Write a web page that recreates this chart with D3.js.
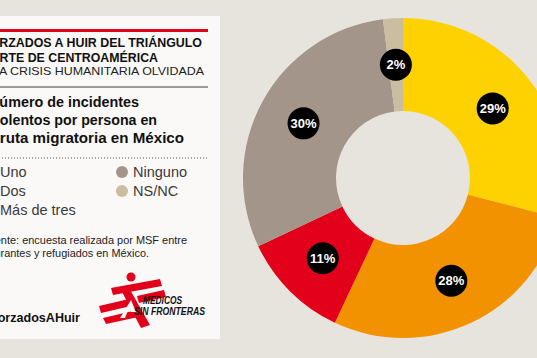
<!DOCTYPE html>
<html><head><meta charset="utf-8">
<script src="https://cdn.jsdelivr.net/npm/d3@7"></script>
<style>
html,body{margin:0;padding:0;background:#e7e4dd;overflow:hidden}
svg{display:block;font-family:"Liberation Sans",Arial,sans-serif}
</style></head>
<body><svg id="c" width="537" height="358"></svg>
<script>
const categories = ["Uno", "Dos", "Más de tres", "Ninguno", "NS/NC"];
const values = [29, 28, 11, 30, 2];
const labels = ["29%", "28%", "11%", "30%", "2%"];
const colors = ["#fdd200", "#f39200", "#e2001a", "#a39589", "#cbbd9f"];
const titleLines = ["FORZADOS A HUIR DEL TRIÁNGULO", "NORTE DE CENTROAMÉRICA"];
const kicker = "LA CRISIS HUMANITARIA OLVIDADA";
const subtitleLines = ["Número de incidentes", "violentos por persona en", "la ruta migratoria en México"];
const sourceLines = ["Fuente: encuesta realizada por MSF entre", "migrantes y refugiados en México."];
const hashtag = "#ForzadosAHuir";

const svg = d3.select("#c");
svg.append("rect").attr("width",537).attr("height",358).attr("fill","#e7e4dd");

// card
svg.append("rect").attr("x",-10).attr("y",16).attr("width",230).attr("height",323).attr("fill","#faf9f7");
svg.append("rect").attr("x",-10).attr("y",29).attr("width",218).attr("height",3).attr("fill","#e2001a");

function fitText(g, txt, x, y, len, size, weight, fill, style){
  return g.append("text").attr("x",x).attr("y",y).attr("textLength",len)
    .attr("lengthAdjust","spacingAndGlyphs").attr("font-size",size)
    .attr("font-weight",weight||"normal").attr("font-style",style||"normal")
    .attr("fill",fill||"#1a1a1a").text(txt);
}
fitText(svg, titleLines[0], -18, 47, 220, 13.5, "bold", "#111");
fitText(svg, titleLines[1], -19, 62, 177, 13.5, "bold", "#111");
fitText(svg, kicker, -8, 75, 212, 11, "normal", "#222");
svg.append("rect").attr("x",-10).attr("y",86).attr("width",218).attr("height",2).attr("fill","#9a9a9a");

fitText(svg, subtitleLines[0], -11, 107, 150, 14.5, "bold", "#111");
fitText(svg, subtitleLines[1], -12, 125, 169, 14.5, "bold", "#111");
fitText(svg, subtitleLines[2], -17, 143, 201, 14.5, "bold", "#111");
svg.append("line").attr("x1",-10).attr("x2",208).attr("y1",158).attr("y2",158)
  .attr("stroke","#555").attr("stroke-width",1).attr("stroke-dasharray","1,2");

// legend
const legPos = [[0,177],[0,196],[0,215],[133,177],[133,196]];
const leg = svg.append("g");
categories.forEach((c,i)=>{
  const [x,y] = legPos[i];
  leg.append("circle").attr("cx",x-11).attr("cy",y-5).attr("r",6).attr("fill",colors[i]);
  leg.append("text").attr("x",x).attr("y",y).attr("font-size",14.5).attr("fill","#3a3a3a").text(c);
});

fitText(svg, sourceLines[0], -18, 244, 205, 11.5, "normal", "#222");
fitText(svg, sourceLines[1], -17, 257, 166, 11.5, "normal", "#222");
fitText(svg, hashtag, -17, 322, 97, 13.5, "bold", "#111");

// MSF logo
const logo = svg.append("g").attr("fill","#e2001a");
logo.append("circle").attr("cx",131).attr("cy",277).attr("r",4.5);
const polys = [
  [[111,288],[160,279],[162,286],[113,295]],
  [[137,296],[164,290],[166,297],[139,303]],
  [[99,306],[129,299],[131,306],[101,313]],
  [[103,318],[141,309],[143,316],[106,324]],
  [[121,290],[129,288],[150,325],[141,328]]
];
polys.forEach(p=>logo.append("path").attr("d","M"+p.map(d=>d.join(",")).join("L")+"Z"));
logo.append("path").attr("d","M120,318 L131,300 L136,312 L131,312 L129,308 L125,318 Z").attr("fill","#faf9f7");
fitText(svg, "MEDICOS", 143, 304, 39, 10.5, "bold", "#111", "italic");
fitText(svg, "SIN FRONTERAS", 134, 315, 71, 10.5, "bold", "#111", "italic");

// donut
const cx = 403, cy = 178, rOut = 160, rIn = 67;
const pie = d3.pie().sort(null).value(d=>d);
const arcs = pie(values);
const arc = d3.arc().innerRadius(rIn).outerRadius(rOut);
const g = svg.append("g").attr("transform",`translate(${cx},${cy})`);
g.selectAll("path.s").data(arcs).enter().append("path").attr("class","s")
  .attr("d",arc).attr("fill",(d,i)=>colors[i]);
const lab = g.selectAll("g.l").data(arcs).enter().append("g").attr("class","l")
  .attr("transform",d=>`translate(${arc.centroid(d)})`);
lab.append("circle").attr("r",16).attr("fill","#000");
lab.append("text").attr("text-anchor","middle").attr("dy","0.36em")
  .attr("font-size",13).attr("font-weight","bold").attr("fill","#fff")
  .text((d,i)=>labels[i]);
</script></body></html>
